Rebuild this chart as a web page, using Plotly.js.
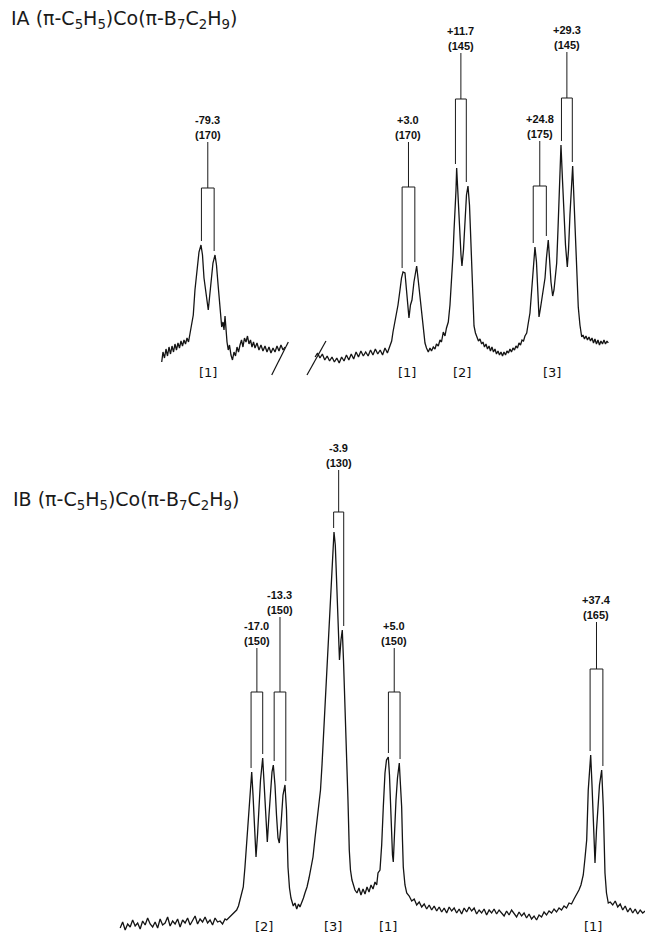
<!DOCTYPE html>
<html>
<head>
<meta charset="utf-8">
<script src="https://cdn.plot.ly/plotly-3.0.1.min.js"></script>
<style>html,body{margin:0;padding:0;background:#fff;}</style>
</head>
<body>
<div id="chart" style="width:645px;height:938px"></div>
<script>
// ---------------- DATA (11B NMR, shifts in ppm, intensities in arbitrary units) ----------------
const FREQ_MHZ = 80.5;

// IA, left fragment of the spectrum (around -79.3 ppm)
const IA_left_ppm = [-86.95,-86.74,-86.49,-86.24,-85.99,-85.74,-85.49,-85.24,-84.99,
  -84.75,-84.50,-84.25,-84.00,-83.75,-83.50,-83.25,-83.00,-82.75,-82.50,
  -82.26,-82.01,-81.71,-81.43,-81.09,-80.76,-80.43,-80.18,-79.93,-79.68,
  -79.43,-79.22,-79.02,-78.77,-78.44,-78.10,-77.86,-77.56,-77.27,-76.99,
  -76.78,-76.61,-76.44,-76.28,-76.11,-75.90,-75.70,-75.45,-75.20,-74.95,
  -74.70,-74.45,-74.20,-73.95,-73.70,-73.46,-73.21,-72.96,-72.71,-72.46,
  -72.21,-71.96,-71.71,-71.46,-71.13,-70.80,-70.47,-70.14,-69.80,-69.47,
  -69.14,-68.81,-68.47,-68.14,-67.81,-67.48,-67.15,-66.81,-66.48];
const IA_left_int = [-12,-2,-8,1,-6,3,-4,4,-2,
  6,0,7,2,9,4,10,6,12,8,
  17,25,35,60,82,98,105,95,72,60,
  50,40,52,70,87,95,85,63,40,23,
  28,20,34,15,8,0,5,-5,-10,-2,
  -6,3,-2,5,10,3,12,8,14,6,
  10,3,8,2,7,0,5,-1,4,-2,
  3,-3,2,-2,4,-1,5,0,3];

// IA, right part: baseline before the first peak
const IA_base_ppm = [-12.5,-12.1,-11.7,-11.3,-10.9,-10.5,-10.1,-9.7,-9.3,-8.9,-8.5,-8.1,-7.7,-7.3,-6.9,-6.5,
  -6.1,-5.7,-5.3,-4.9,-4.5,-4.1,-3.7,-3.3,-2.9,-2.5,-2.1,-1.7,-1.3,-0.9,-0.5,-0.1];
const IA_base_int = [-7,-3,-8,-4,-10,-6,-11,-7,-12,-8,-13,-7,-11,-5,-10,-4,
  -9,-2,-7,-1,-6,-2,-6,0,-5,1,-4,0,-5,2,-3,3];
// IA, right part: peaks [1] [2] [3]
const IA_peak_ppm = [0.21,0.43,0.76,1.04,1.26,1.59,1.84,2.09,2.42,2.67,
  2.92,3.08,3.33,3.58,3.91,4.36,4.58,4.91,5.16,5.46,
  5.74,5.99,6.29,6.57,6.82,7.12,7.40,7.65,7.95,8.23,
  8.48,8.78,9.06,9.31,9.61,9.89,10.17,10.39,10.55,10.72,
  10.89,11.00,11.22,11.47,11.72,11.88,12.13,12.38,12.63,12.88,
  13.13,13.29,13.49,13.71,13.88,14.12,14.37,14.62,14.87,15.15,
  15.37,15.62,15.87,16.12,16.37,16.61,16.86,17.11,17.36,17.61,
  17.86,18.11,18.36,18.61,18.86,19.11,19.35,19.60,19.85,20.10,
  20.35,20.60,20.85,21.10,21.35,21.60,21.85,22.10,22.34,22.63,
  22.84,23.17,23.42,23.72,24.00,24.25,24.50,24.67,24.92,25.17,
  25.39,25.67,25.91,26.21,26.41,26.66,26.94,27.16,27.41,27.61,
  27.82,27.99,28.15,28.32,28.57,28.82,29.07,29.37,29.57,29.81,
  30.06,30.26,30.48,30.65,30.81,30.98,31.19,31.47,31.76,31.98,
  32.22,32.47,32.72,32.97,33.22,33.47,33.72,33.96,34.21,34.46,
  34.71,34.96,35.21,35.46,35.71,35.96,36.17];
const IA_peak_int = [9,18,28,35,45,60,72,78,77,60,
  40,32,45,50,68,84,72,53,35,17,
  7,2,-2,2,-1,3,1,6,4,10,
  8,18,14,22,28,45,68,95,118,137,
  160,182,160,125,95,84,100,135,155,164,
  145,120,93,55,24,17,13,9,11,6,
  8,3,6,1,4,-1,3,-2,1,-4,
  -1,-5,-2,-6,-2,-5,-1,-3,1,-2,
  2,0,4,2,7,5,10,9,14,17,
  25,37,57,83,103,88,50,33,42,52,
  57,72,92,110,92,68,54,60,75,87,
  120,150,175,205,170,135,105,83,100,135,
  165,184,150,120,93,65,43,25,13,15,
  11,14,10,13,9,12,7,11,6,10,
  5,9,6,10,6,9,7];

// IB: left baseline
const IB_a_ppm = [-38.9,-38.5,-38.1,-37.7,-37.3,-36.9,-36.5,-36.1,-35.7,-35.3,
  -34.9,-34.5,-34.1,-33.7,-33.3,-32.9,-32.5,-32.1,-31.7,-31.3,
  -30.9,-30.5,-30.1,-29.7,-29.3,-28.9,-28.5,-28.1,-27.7,-27.3,
  -26.9,-26.5,-26.1,-25.7,-25.3,-24.9,-24.5,-24.1,-23.7,-23.3,
  -22.9,-22.5,-22.1];
const IB_a_int = [-18,-12,-20,-14,-17,-10,-16,-13,-19,-11,
  -15,-8,-14,-17,-12,-18,-9,-15,-13,-7,
  -16,-11,-14,-9,-17,-10,-13,-8,-15,-11,
  -6,-14,-9,-12,-7,-13,-10,-15,-8,-12,
  -11,-14,-9];
// IB: peaks [2] [3] [1]
const IB_b_ppm = [-21.84,-21.31,-20.83,-20.24,-19.95,-19.71,-19.43,-19.18,-18.91,-18.63,
  -18.38,-18.11,-17.83,-17.62,-17.38,-17.14,-16.90,-16.66,-16.42,-16.07,
  -15.86,-15.62,-15.33,-15.06,-14.82,-14.58,-14.37,-14.10,-13.86,-13.62,
  -13.41,-13.14,-12.82,-12.50,-12.26,-12.02,-11.78,-11.54,-11.17,-10.90,
  -10.62,-10.34,-10.10,-9.82,-9.54,-9.30,-8.97,-8.65,-8.33,-8.01,
  -7.69,-7.37,-7.05,-6.81,-6.57,-6.33,-6.09,-5.85,-5.61,-5.37,
  -5.13,-4.89,-4.65,-4.44,-4.25,-4.01,-3.77,-3.53,-3.32,-3.13,
  -2.89,-2.65,-2.41,-2.20,-2.01,-1.77,-1.53,-1.29,-0.97,-0.65,
  -0.33,0.00,0.32,0.64,0.96,1.28,1.60,1.92,2.19,2.40,
  2.72,2.99,3.25,3.52,3.76,4.05,4.24,4.48,4.72,4.85,
  5.04,5.28,5.52,5.81,6.00,6.19,6.32,6.45,6.72,7.00];
const IB_b_int = [-10,-7,-4,0,4,10,17,23,43,70,
  95,120,138,115,80,53,75,105,130,152,
  125,90,68,95,120,138,145,125,95,72,
  67,85,115,125,100,43,22,12,4,7,
  1,6,3,7,12,17,23,32,42,53,
  72,90,107,120,145,175,205,235,265,295,
  325,350,378,365,330,285,250,270,280,250,
  210,170,110,60,40,30,24,20,17,22,
  15,21,16,23,18,25,21,28,25,37,
  40,65,103,137,150,153,135,90,55,48,
  80,110,132,147,125,103,70,43,25,17];
// IB: middle baseline
const IB_c_ppm = [7.4,7.8,8.2,8.6,9.0,9.4,9.8,10.2,10.6,11.0,
  11.4,11.8,12.2,12.6,13.0,13.4,13.8,14.2,14.6,15.0,
  15.4,15.8,16.2,16.6,17.0,17.4,17.8,18.2,18.6,19.0,
  19.4,19.8,20.2,20.6,21.0,21.4,21.8,22.2,22.6,23.0,
  23.4,23.8,24.2,24.6,25.0,25.4,25.8,26.2,26.6,27.0,
  27.4,27.8,28.2,28.6,29.0,29.4,29.8,30.2,30.6,31.0,
  31.4,31.8,32.2,32.6,33.0,33.4,33.8];
const IB_c_int = [14,9,11,5,8,3,6,1,5,0,
  4,-1,3,-2,2,-3,3,-1,2,-3,
  1,-4,2,-2,3,-1,2,-4,0,-3,
  1,-5,0,-3,1,-4,0,-3,-6,-1,
  -5,0,-4,-7,-2,-6,-3,-8,-4,-9,
  -6,-10,-5,-7,-2,-5,-1,-3,1,-2,
  2,0,4,2,7,6,11];
// IB: last doublet and right baseline
const IB_d_ppm = [34.27,34.59,34.91,35.28,35.56,35.83,36.08,36.28,36.47,36.68,
  36.92,37.16,37.40,37.64,37.88,38.23,38.49,38.76,39.00,39.29,
  39.6,40.0,40.4,40.8,41.2,41.6,42.0,42.4,42.8,43.2,43.6,44.0,44.4,44.8,45.2];
const IB_d_int = [16,20,25,35,52,70,120,142,155,125,
  80,47,80,105,125,140,103,37,17,7,
  8,5,9,3,6,0,4,-2,2,-3,1,-4,0,-3,-1];

// Assignments
const IA_shifts = [-79.3, 3.0, 11.7, 24.8, 29.3];
const IA_J = [170, 170, 145, 175, 145];
const IA_shift_text = ['-79.3', '+3.0', '+11.7', '+24.8', '+29.3'];
const IB_shifts = [-17.0, -13.3, -3.9, 5.0, 37.4];
const IB_J = [150, 150, 130, 150, 165];
const IB_shift_text = ['-17.0', '-13.3', '-3.9', '+5.0', '+37.4'];
const IA_groups = ['[1]', '[1]', '[2]', '[3]'];
const IA_group_ppm = [-79.22, 2.8, 11.83, 26.9];
const IB_groups = ['[2]', '[3]', '[1]', '[1]'];
const IB_group_ppm = [-15.8, -4.76, 4.0, 36.84];
const IA_title = 'IA (π-C<sub>5</sub>H<sub>5</sub>)Co(π-B<sub>7</sub>C<sub>2</sub>H<sub>9</sub>)';
const IB_title = 'IB (π-C<sub>5</sub>H<sub>5</sub>)Co(π-B<sub>7</sub>C<sub>2</sub>H<sub>9</sub>)';

// ---------------- LAYOUT SETTINGS (positions/styles) ----------------
const IA_bracketY = [162, 163, 251, 164, 252];
const IA_stemTop = [208, 208, 297, 209, 298];
const IB_bracketY = [218, 218, 398, 218, 241];
const IB_stemTop = [262, 293, 440, 262, 288];
const LINE_GAP = 15;
const LINE = '#141414';
const SPLIT = 0.53;   // paper fraction where the two panels meet

const IA_right_ppm = IA_base_ppm.concat(IA_peak_ppm);
const IA_right_int = IA_base_int.concat(IA_peak_int);
const IB_ppm = IB_a_ppm.concat(IB_b_ppm, IB_c_ppm, IB_d_ppm);
const IB_int = IB_a_int.concat(IB_b_int, IB_c_int, IB_d_int);

function peakTop(xs, ys, x0, w) {
  let m = -Infinity;
  for (let i = 0; i < xs.length; i++) if (Math.abs(xs[i] - x0) <= w && ys[i] > m) m = ys[i];
  return m;
}

const traces = [
  {x: IA_left_ppm, y: IA_left_int, xaxis: 'x3', yaxis: 'y2', type: 'scatter', mode: 'lines',
   line: {color: LINE, width: 1.3}, hoverinfo: 'skip'},
  {x: IA_right_ppm, y: IA_right_int, xaxis: 'x2', yaxis: 'y2', type: 'scatter', mode: 'lines',
   line: {color: LINE, width: 1.3}, hoverinfo: 'skip'},
  {x: IB_ppm, y: IB_int, xaxis: 'x', yaxis: 'y', type: 'scatter', mode: 'lines',
   line: {color: LINE, width: 1.3}, hoverinfo: 'skip'}
];

const shapes = [];
const annotations = [];
const labelFont = {family: 'Liberation Sans, Arial, sans-serif', size: 11, color: '#111'};
const groupFont = {family: 'DejaVu Sans, sans-serif', size: 13, color: '#111'};

function addDoublet(shift, J, text, bracketY, stemTop, xref, yref, xs, ys) {
  const half = J / FREQ_MHZ / 2;
  const xl = shift - half, xr = shift + half;
  const ln = {color: '#1a1a1a', width: 1};
  shapes.push({type: 'line', xref, yref, x0: shift, x1: shift, y0: bracketY, y1: stemTop, line: ln});
  shapes.push({type: 'line', xref, yref, x0: xl, x1: xr, y0: bracketY, y1: bracketY, line: ln});
  const bl = peakTop(xs, ys, xl, 0.35) + 4;
  const br = peakTop(xs, ys, xr, 0.35) + 4;
  shapes.push({type: 'line', xref, yref, x0: xl, x1: xl, y0: bracketY, y1: bl, line: ln});
  shapes.push({type: 'line', xref, yref, x0: xr, x1: xr, y0: bracketY, y1: br, line: ln});
  annotations.push({xref, yref, x: shift, y: stemTop + LINE_GAP - 1, yanchor: 'bottom', xanchor: 'center',
    text: '<b>' + text + '</b>', showarrow: false, font: labelFont});
  annotations.push({xref, yref, x: shift, y: stemTop - 1, yanchor: 'bottom', xanchor: 'center',
    text: '<b>(' + J + ')</b>', showarrow: false, font: labelFont});
}

IA_shifts.forEach((s, i) => {
  const left = i === 0;
  addDoublet(s, IA_J[i], IA_shift_text[i], IA_bracketY[i], IA_stemTop[i],
    left ? 'x3' : 'x2', 'y2', left ? IA_left_ppm : IA_right_ppm, left ? IA_left_int : IA_right_int);
});
IB_shifts.forEach((s, i) => {
  addDoublet(s, IB_J[i], IB_shift_text[i], IB_bracketY[i], IB_stemTop[i], 'x', 'y', IB_ppm, IB_int);
});

IA_groups.forEach((g, i) => {
  annotations.push({xref: i === 0 ? 'x3' : 'x2', yref: 'y2', x: IA_group_ppm[i], y: -22,
    text: g, showarrow: false, font: groupFont, yanchor: 'middle'});
});
IB_groups.forEach((g, i) => {
  annotations.push({xref: 'x', yref: 'y', x: IB_group_ppm[i], y: -16,
    text: g, showarrow: false, font: groupFont, yanchor: 'middle'});
});

// axis-break marks in the IA spectrum
shapes.push({type: 'line', xref: 'x3', yref: 'y2', x0: -68.69, x1: -65.93, y0: -25, y1: 8, line: {color: LINE, width: 1.2}});
shapes.push({type: 'line', xref: 'x2', yref: 'y2', x0: -13.85, x1: -10.70, y0: -25, y1: 9, line: {color: LINE, width: 1.2}});

const titleFont = {family: 'DejaVu Sans, sans-serif', size: 19, color: '#1a1a1a'};
annotations.push({xref: 'paper', yref: 'paper', x: 0.014, y: 1 - 20 / 938, xanchor: 'left', yanchor: 'middle',
  text: IA_title, showarrow: false, font: titleFont});
annotations.push({xref: 'paper', yref: 'paper', x: 0.017, y: 1 - 500 / 938, xanchor: 'left', yanchor: 'middle',
  text: IB_title, showarrow: false, font: titleFont});

// keep 1 intensity unit = 1 px in both panels
const H = 938;
const splitPx = H * (1 - SPLIT);
const IB_baselinePx = 910, IA_baselinePx = 350;
const hidden = {visible: false, showgrid: false, zeroline: false, fixedrange: true};
const layout = {
  width: 645, height: H,
  margin: {l: 0, r: 0, t: 0, b: 0, pad: 0},
  paper_bgcolor: '#ffffff', plot_bgcolor: '#ffffff',
  showlegend: false,
  xaxis: Object.assign({domain: [0, 1], range: [-58.15, 45.17], anchor: 'y'}, hidden),
  yaxis: Object.assign({domain: [0, SPLIT], range: [IB_baselinePx - H, IB_baselinePx - splitPx], anchor: 'x'}, hidden),
  xaxis2: Object.assign({domain: [0, 1], range: [-64.82, 42.27], anchor: 'y2'}, hidden),
  yaxis2: Object.assign({domain: [SPLIT, 1], range: [IA_baselinePx - splitPx, IA_baselinePx], anchor: 'x2'}, hidden),
  xaxis3: Object.assign({domain: [0, 1], range: [-113.80, -6.71], anchor: 'y2', overlaying: 'x2'}, hidden),
  shapes: shapes,
  annotations: annotations
};

Plotly.newPlot('chart', traces, layout, {staticPlot: true, displayModeBar: false});
</script>
</body>
</html>
